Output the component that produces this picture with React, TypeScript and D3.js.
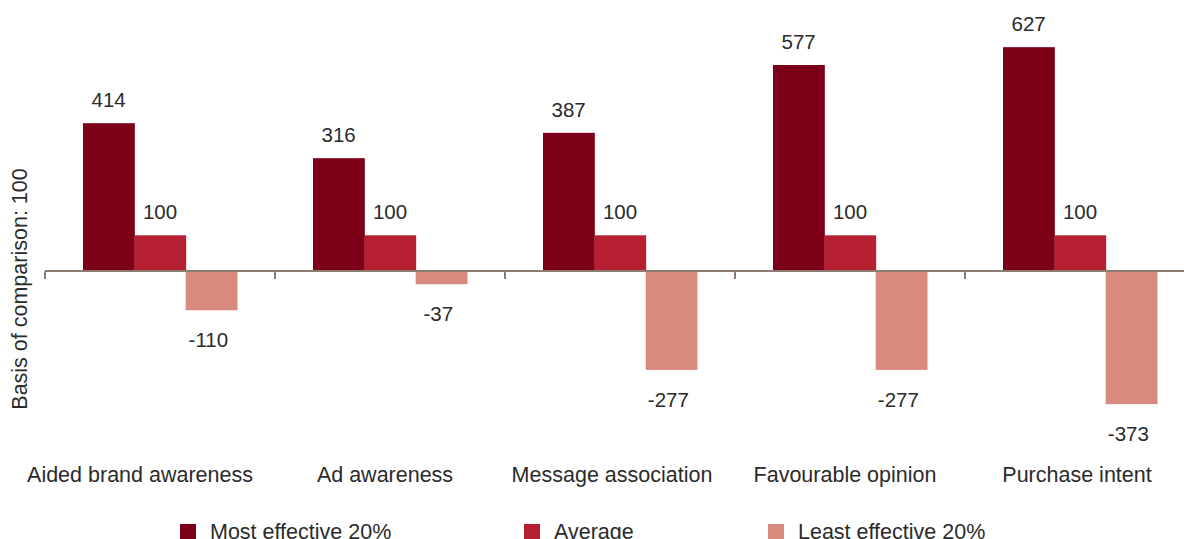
import React from "react";
import * as d3 from "d3";

const categories = ["Aided brand awareness", "Ad awareness", "Message association", "Favourable opinion", "Purchase intent"];
const seriesNames = ["Most effective 20%", "Average", "Least effective 20%"];
const mostEffective = [414, 316, 387, 577, 627];
const average = [100, 100, 100, 100, 100];
const leastEffective = [-110, -37, -277, -277, -373];
const colors = ["#7d0019", "#b71f33", "#d98a7e"];
const yTitle = "Basis of comparison: 100";

const W = 1184;
const H = 539;
const FONT = "'Liberation Sans', Arial, Helvetica, sans-serif";
const labelShift = [-20, -5, -8, -5, -3];

export default function App() {
  const values = [mostEffective, average, leastEffective];
  const zeroY = 271;
  const k = 0.357;
  const y = d3.scaleLinear().domain([-400, 700]).range([zeroY + 400 * k, zeroY - 700 * k]);
  const x0 = d3.scaleBand<string>().domain(categories).range([45, 1195]).padding(0);
  const bw = x0.bandwidth();
  const x1 = d3.scaleBand<string>().domain(seriesNames).range([38, bw - 38]).padding(0);
  const ticks = categories.map((c) => x0(c)!);
  const legendX = [180, 524, 768];

  return (
    <svg width={W} height={H} style={{ position: "absolute", left: 0, top: 0 }} fontFamily={FONT}>
      <rect width={W} height={H} fill="#fff" />
      {categories.map((c, ci) =>
        seriesNames.map((s, si) => {
          const v = values[si][ci];
          const bx = x0(c)! + x1(s)!;
          const top = y(Math.max(0, v));
          const h = Math.abs(y(v) - y(0));
          const cx = bx + x1.bandwidth() / 2 - (v < 0 ? 3 : 0);
          const ly = v >= 0 ? y(v) - 16 : y(v) + 37;
          return (
            <g key={c + s}>
              <rect x={bx} y={top} width={x1.bandwidth() + 0.5} height={h} fill={colors[si]} />
              <text x={cx} y={ly} textAnchor="middle" fontSize={20.5} fill="#2b2b2b">{v}</text>
            </g>
          );
        })
      )}
      <line x1={45} x2={W} y1={y(0)} y2={y(0)} stroke="#8c7c72" strokeWidth={2} />
      {ticks.map((t, i) => (
        <line key={i} x1={t} x2={t} y1={y(0)} y2={y(0) + 8} stroke="#8c7c72" strokeWidth={2} />
      ))}
      {categories.map((c, i) => (
        <text key={c} x={x0(c)! + bw / 2 + labelShift[i]} y={482} textAnchor="middle" fontSize={21.5} fill="#2b2b2b">{c}</text>
      ))}
      <text transform={`translate(27,289) rotate(-90)`} textAnchor="middle" fontSize={21.5} fill="#2b2b2b">{yTitle}</text>
      {seriesNames.map((s, i) => (
        <g key={s}>
          <rect x={legendX[i]} y={524} width={16} height={16} fill={colors[i]} />
          <text x={legendX[i] + 30} y={538.5} fontSize={21.5} fill="#2b2b2b">{s}</text>
        </g>
      ))}
    </svg>
  );
}
